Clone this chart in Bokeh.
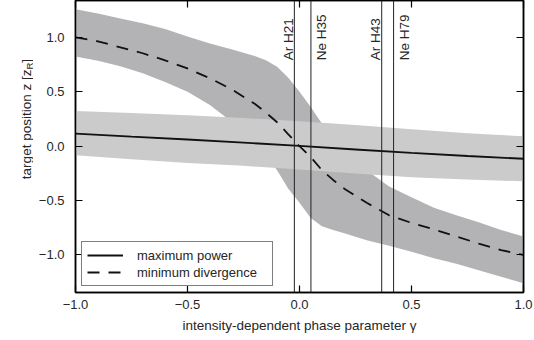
import numpy as np
from bokeh.plotting import figure
from bokeh.layouts import row
from bokeh.models import (ColumnDataSource, Range1d, LinearAxis, FixedTicker,
                          Legend, LegendItem, Span)
from bokeh.core.properties import value
from bokeh.embed import file_html
from bokeh.resources import INLINE

# ---------------- data ----------------
gamma_div = [-1.0, -0.9, -0.8, -0.7, -0.6, -0.5, -0.4, -0.3, -0.2, -0.15, -0.1, -0.05,
             0.0, 0.05, 0.1, 0.15, 0.2, 0.3, 0.4, 0.5, 0.6, 0.7, 0.8, 0.9, 1.0]
div_mid = [1.0, 0.965, 0.91, 0.855, 0.79, 0.715, 0.625, 0.52, 0.39, 0.31, 0.22, 0.11,
           0.0, -0.10, -0.22, -0.31, -0.39, -0.52, -0.635, -0.705, -0.765, -0.83, -0.895, -0.955, -1.0]
div_upper = [1.26, 1.22, 1.175, 1.13, 1.077, 1.01, 0.945, 0.89, 0.83, 0.79, 0.73, 0.63,
             0.50, 0.36, 0.21, 0.07, -0.04, -0.22, -0.37, -0.47, -0.565, -0.635, -0.70, -0.77, -0.83]
div_lower = [0.825, 0.785, 0.735, 0.67, 0.59, 0.50, 0.38, 0.22, 0.03, -0.09, -0.22, -0.39,
             -0.52, -0.66, -0.735, -0.77, -0.80, -0.865, -0.915, -0.97, -1.03, -1.08, -1.14, -1.20, -1.26]

gamma_pow = [-1.0, -0.75, -0.5, -0.25, 0.0, 0.25, 0.5, 0.75, 1.0]
pow_mid = [0.115, 0.088, 0.062, 0.033, 0.003, -0.03, -0.062, -0.09, -0.115]
pow_upper = [0.323, 0.305, 0.285, 0.26, 0.23, 0.195, 0.155, 0.12, 0.092]
pow_lower = [-0.083, -0.12, -0.155, -0.18, -0.215, -0.25, -0.285, -0.305, -0.323]

harm_names = ["Ar H21", "Ne H35", "Ar H43", "Ne H79"]
harm_gamma = [-0.023, 0.051, 0.367, 0.42]
harm_label_z = [0.79, 0.79, 0.79, 0.79]

x_ticks = [-1.0, -0.5, 0.0, 0.5, 1.0]
x_tick_labels = ["\u22121.0", "\u22120.5", "0.0", "0.5", "1.0"]
y_ticks = [-1.0, -0.5, 0.0, 0.5, 1.0]
y_tick_labels = ["\u22121.0", "\u22120.5", "0.0", "0.5", "1.0"]

series_names = ["maximum power", "minimum divergence"]
x_title = "intensity-dependent phase parameter \u03b3"
y_title_parts = ["target position z [z", "R", "]"]

# ---------------- styling ----------------
FONT = "Liberation Sans"
DARK = "#b3b3b6"
LIGHT = "#cbcbcb"
TXT = "#262626"
TITLE_W = 33          # width of the strip holding the rotated y title
W, H = 534, 340

p = figure(width=W - TITLE_W, height=H, output_backend="svg", toolbar_location=None,
           title=None,
           x_range=Range1d(-1.0, 1.0), y_range=Range1d(-1.345, 1.34),
           min_border_left=75 - TITLE_W, min_border_right=11, min_border_top=0,
           min_border_bottom=48)
p.xgrid.visible = False
p.ygrid.visible = False
p.outline_line_color = "black"
p.outline_line_width = 1.5
p.background_fill_color = "white"
p.border_fill_color = "white"

div_src = ColumnDataSource(dict(x=gamma_div, y=div_mid, lo=div_lower, hi=div_upper))
pow_src = ColumnDataSource(dict(x=gamma_pow, y=pow_mid, lo=pow_lower, hi=pow_upper))

p.varea(x="x", y1="lo", y2="hi", source=div_src, fill_color=DARK)
p.varea(x="x", y1="lo", y2="hi", source=pow_src, fill_color=LIGHT)

for g in harm_gamma:
    p.add_layout(Span(location=g, dimension="height", line_color="#222222", line_width=1))

r_div = p.line("x", "y", source=div_src, line_color="#111111", line_width=1.8,
               line_dash="12 9")
r_pow = p.line("x", "y", source=pow_src, line_color="#111111", line_width=1.8)

ar_idx = [i for i, n in enumerate(harm_names) if n.startswith("Ar")]
ne_idx = [i for i, n in enumerate(harm_names) if n.startswith("Ne")]
ar_src = ColumnDataSource(dict(x=[harm_gamma[i] for i in ar_idx],
                               y=[harm_label_z[i] for i in ar_idx],
                               t=[harm_names[i] for i in ar_idx]))
ne_src = ColumnDataSource(dict(x=[harm_gamma[i] for i in ne_idx],
                               y=[harm_label_z[i] for i in ne_idx],
                               t=[harm_names[i] for i in ne_idx]))
p.text(x="x", y="y", text="t", source=ar_src, angle=np.pi / 2, text_align="left",
       text_baseline="middle", x_offset=-6.3, text_font=value(FONT),
       text_font_size="13.5px", text_color=TXT)
p.text(x="x", y="y", text="t", source=ne_src, angle=np.pi / 2, text_align="left",
       text_baseline="middle", x_offset=11, text_font=value(FONT),
       text_font_size="13.5px", text_color=TXT)

# axes
def style_axis(ax, ticks, labels, show_labels=True):
    ax.ticker = FixedTicker(ticks=ticks)
    ax.major_label_overrides = {t: l for t, l in zip(ticks, labels)}
    ax.major_tick_in = 7
    ax.major_tick_out = 0
    ax.minor_tick_line_color = None
    ax.axis_line_color = "black"
    ax.axis_line_width = 1.5
    ax.major_tick_line_color = "black"
    ax.major_tick_line_width = 1.2
    ax.major_label_text_font = FONT
    if show_labels:
        ax.major_label_text_font_size = "13px"
        ax.major_label_text_color = TXT
    else:
        ax.major_label_text_font_size = "1px"
        ax.major_label_text_color = None
        ax.major_label_standoff = 0

xa = p.xaxis[0]
style_axis(xa, x_ticks, x_tick_labels)
xa.major_label_standoff = 7
xa.axis_label = x_title
xa.axis_label_text_font = FONT
xa.axis_label_text_font_size = "13.5px"
xa.axis_label_text_font_style = "normal"
xa.axis_label_text_color = TXT
xa.axis_label_standoff = 6

ya = p.yaxis[0]
style_axis(ya, y_ticks, y_tick_labels)
ya.major_label_standoff = 11

top_ax = LinearAxis()
style_axis(top_ax, x_ticks, x_tick_labels, show_labels=False)
p.add_layout(top_ax, "above")
right_ax = LinearAxis()
style_axis(right_ax, y_ticks, y_tick_labels, show_labels=False)
p.add_layout(right_ax, "right")

legend = Legend(items=[LegendItem(label=series_names[0], renderers=[r_pow]),
                       LegendItem(label=series_names[1], renderers=[r_div])],
                location="bottom_left", margin=6, padding=5, glyph_width=36,
                glyph_height=16, label_height=16, label_width=130, spacing=1,
                label_standoff=14, border_line_color="black", border_line_width=1.5,
                label_text_font=FONT, label_text_font_size="13px",
                label_text_color=TXT, background_fill_color="white",
                background_fill_alpha=1.0)
p.add_layout(legend)

# ---- strip with the rotated y-axis title (pixel coordinates, y up) ----
t = figure(width=TITLE_W, height=H, output_backend="svg", toolbar_location=None,
           title=None, x_range=Range1d(0, TITLE_W), y_range=Range1d(0, H),
           x_axis_location=None, y_axis_location=None, min_border=0)
t.xgrid.visible = False
t.ygrid.visible = False
t.outline_line_color = None
t.background_fill_color = "white"
t.border_fill_color = "white"

anchor_x, anchor_y = 26, H - 208
t_src = ColumnDataSource(dict(
    x=[anchor_x] * 3,
    y=[anchor_y] * 3,
    t=y_title_parts,
    s=["13.5px", "9.5px", "13.5px"],
    dx=[0.0, 2.5, 0.0],
    dy=[0.0, -109.6, -116.5]))
t.text(x="x", y="y", text="t", source=t_src, angle=np.pi / 2, text_align="left",
       text_baseline="alphabetic", text_font=value(FONT), text_font_size="s",
       x_offset="dx", y_offset="dy", text_color=TXT)

layout = row(t, p, spacing=0)
open("out.html", "w").write(file_html(layout, INLINE))
